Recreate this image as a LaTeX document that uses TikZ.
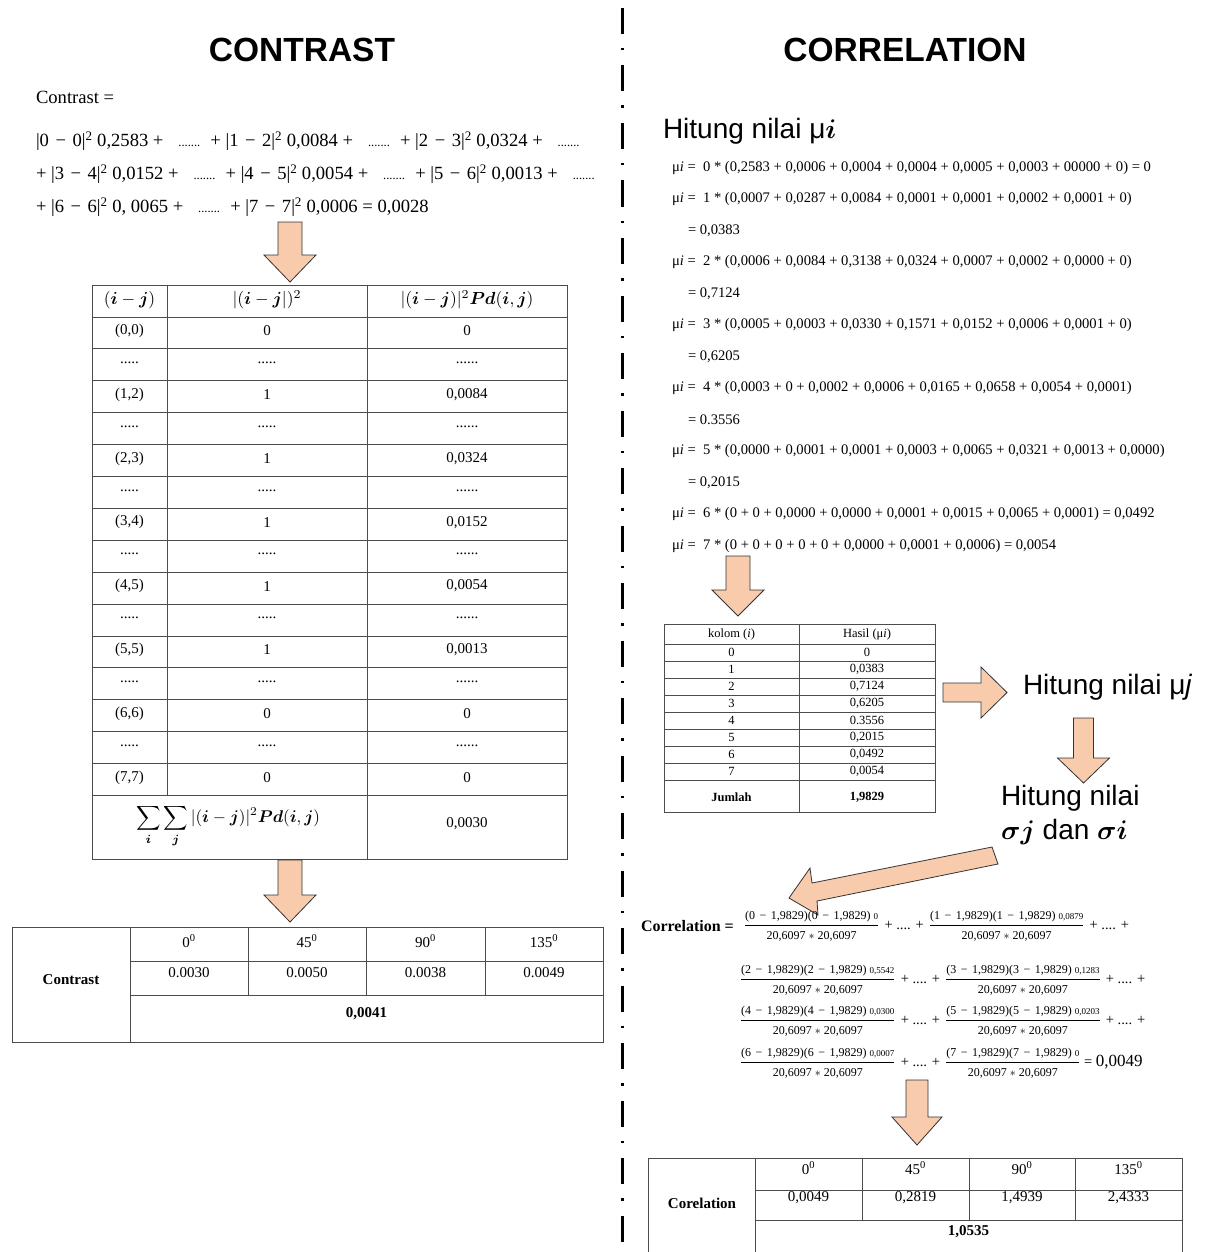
\documentclass[tikz,border=0pt]{standalone}
\usepackage{fontspec}
\setmainfont{Liberation Serif}
\setsansfont{Liberation Sans}
\usepackage{bm}
\usepackage{graphicx}
\newcommand{\myfs}[1]{\fontsize{#1}{#1}\selectfont}
\newcommand{\scmath}[2]{\scalebox{#1}{\myfs{10}$#2$}}
\definecolor{peach}{HTML}{F8CBAD}
\newcommand{\peachdown}[6]{\draw[peacharrow] ({#1-#5},#2) -- ({#1+#5},#2) -- ({#1+#5},#3) -- ({#1+#6},#3) -- (#1,#4) -- ({#1-#6},#3) -- ({#1-#5},#3) -- cycle;}
\newcommand{\mn}{\kern4.5pt−\kern4.5pt}
\newcommand{\crfrac}[2]{$\displaystyle\frac{\mbox{\myfs{12}(#1\mn1,9829)(#1\mn1,9829) {\myfs{9}#2}}}{\mbox{\myfs{12}20,6097 $\ast$ 20,6097}}$}
\newcommand{\pdp}{\hspace{0.35em}+ .... +\hspace{0.35em}}
\newcommand{\dts}{{\myfs{12.5}.......}}
\newcommand{\gp}{\hspace{0.8em}\dts\hspace{0.55em}}
\newcommand{\ab}[2]{|#1\hspace{0.35em}−\hspace{0.35em}#2|\textsuperscript{2}}
\tikzset{
  peacharrow/.style={fill=peach, draw=black!80, line width=0.8pt, line join=miter},
  grid/.style={draw=black!70, line width=0.8pt},
  txt/.style={inner sep=0pt, outer sep=0pt},
  ttl/.style={txt, font=\sffamily\bfseries\myfs{33.5}},
  cont/.style={txt, anchor=west, font=\myfs{18.6}},
  mu/.style={txt, anchor=west, font=\myfs{14.6}},
  cell/.style={txt, font=\myfs{15}},
  scell/.style={txt, font=\myfs{12.5}},
  hit/.style={txt, anchor=west, font=\sffamily\myfs{28}},
  crl/.style={txt, anchor=west, font=\myfs{14.5}},
}
\begin{document}
\begin{tikzpicture}[x=1pt,y=-1pt]
\useasboundingbox (0,0) rectangle (1205,1252);
\fill[white] (0,0) rectangle (1205,1252);
% divider
\draw[line width=3pt, dash pattern=on 26pt off 14pt on 2.5pt off 15pt] (622,8) -- (622,1252);
% titles
\node[ttl] (t1) at (302,50) {CONTRAST};
\node[ttl] (t2) at (905,50) {CORRELATION};
% contrast formula
\node[cont] (cq) at (36,97) {Contrast =};
\node[cont] (cl1) at (36,141) {\ab{0}{0} 0,2583 +\gp+ \ab{1}{2} 0,0084 +\gp+ \ab{2}{3} 0,0324 +\hspace{0.8em}\dts};
\node[cont] (cl2) at (36,174) {+ \ab{3}{4} 0,0152 +\gp+ \ab{4}{5} 0,0054 +\gp+ \ab{5}{6} 0,0013 +\hspace{0.8em}\dts};
\node[cont] (cl3) at (36,207) {+ \ab{6}{6} 0, 0065 +\gp+ \ab{7}{7} 0,0006 = 0,0028};
\peachdown{290}{222}{255}{282}{12}{26}
% left table
\draw[grid] (92,285) rectangle (567,859);
\foreach \k in {1,...,16} \draw[grid] (92,{285+31.9*\k}) -- (567,{285+31.9*\k});
\draw[grid] (167,285) -- (167,795.4);
\draw[grid] (367,285) -- (367,859);
\node[cell] (h1) at (129.5,300) {\scmath{1.75}{(\bm{i}-\bm{j})}};
\node[cell] (h2) at (267,300) {\scmath{1.75}{|(\bm{i}-\bm{j}|)^2}};
\node[cell] (h3) at (467,300) {\scmath{1.75}{|(\bm{i}-\bm{j})|^2\bm{Pd}(\bm{i},\bm{j})}};
\foreach \a/\b/\c [count=\k] in {{(0,0)}/0/0, {.....}/{.....}/{......}, {(1,2)}/1/{0,0084}, {.....}/{.....}/{......}, {(2,3)}/1/{0,0324}, {.....}/{.....}/{......}, {(3,4)}/1/{0,0152}, {.....}/{.....}/{......}, {(4,5)}/1/{0,0054}, {.....}/{.....}/{......}, {(5,5)}/1/{0,0013}, {.....}/{.....}/{......}, {(6,6)}/0/0, {.....}/{.....}/{......}, {(7,7)}/0/0} {
  \node[cell] (la\k) at (129.5,{285+31.9*\k+14}) {\a};
  \node[cell] (lb\k) at (267,{285+31.9*\k+14}) {\b};
  \node[cell] (lc\k) at (467,{285+31.9*\k+14}) {\c};
}
\node[cell] (sum) at (228,826) {\scmath{1.7}{\displaystyle\sum_{\bm{i}}\sum_{\bm{j}}|(\bm{i}-\bm{j})|^2\bm{Pd}(\bm{i},\bm{j})}};
\node[cell] (sumv) at (467,824) {0,0030};
\peachdown{290}{860}{895}{922}{12}{26}
% left bottom table
\draw[grid] (12,927) rectangle (603,1042);
\draw[grid] (130,961) -- (603,961);
\draw[grid] (130,995) -- (603,995);
\draw[grid] (130,927) -- (130,1042);
\foreach \x in {248,366,485} \draw[grid] (\x,927) -- (\x,995);
\node[cell,font=\myfs{15}\bfseries] (cn) at (71,980) {Contrast};
\foreach \a/\b/\x [count=\k] in {0/{0.0030}/189, 45/{0.0050}/307, 90/{0.0038}/425.5, 135/{0.0049}/544} {
  \node[cell] (ch\k) at (\x,941) {\a\textsuperscript{0}};
  \node[cell] (cv\k) at (\x,973) {\b};
}
\node[cell,font=\myfs{15}\bfseries] (ct) at (366.5,1014) {0,0041};
% right: mu
\node[hit] (hi) at (663,131) {Hitung nilai μ\scmath{2.7}{\bm{i}}};
\node[mu] (m1) at (672,168) {μ\textit{i} =~ 0 * (0,2583 + 0,0006 + 0,0004 + 0,0004 + 0,0005 + 0,0003 + 00000 + 0) = 0};
\node[mu] (m2) at (672,199) {μ\textit{i} =~ 1 * (0,0007 + 0,0287 + 0,0084 + 0,0001 + 0,0001 + 0,0002 + 0,0001 + 0)};
\node[mu] (m2r) at (688,231) {= 0,0383};
\node[mu] (m3) at (672,262) {μ\textit{i} =~ 2 * (0,0006 + 0,0084 + 0,3138 + 0,0324 + 0,0007 + 0,0002 + 0,0000 + 0)};
\node[mu] (m3r) at (688,294) {= 0,7124};
\node[mu] (m4) at (672,325) {μ\textit{i} =~ 3 * (0,0005 + 0,0003 + 0,0330 + 0,1571 + 0,0152 + 0,0006 + 0,0001 + 0)};
\node[mu] (m4r) at (688,357) {= 0,6205};
\node[mu] (m5) at (672,388) {μ\textit{i} =~ 4 * (0,0003 + 0 + 0,0002 + 0,0006 + 0,0165 + 0,0658 + 0,0054 + 0,0001)};
\node[mu] (m5r) at (688,420) {= 0.3556};
\node[mu] (m6) at (672,451) {μ\textit{i} =~ 5 * (0,0000 + 0,0001 + 0,0001 + 0,0003 + 0,0065 + 0,0321 + 0,0013 + 0,0000)};
\node[mu] (m6r) at (688,483) {= 0,2015};
\node[mu] (m7) at (672,514) {μ\textit{i} =~ 6 * (0 + 0 + 0,0000 + 0,0000 + 0,0001 + 0,0015 + 0,0065 + 0,0001) = 0,0492};
\node[mu] (m8) at (672,546) {μ\textit{i} =~ 7 * (0 + 0 + 0 + 0 + 0 + 0,0000 + 0,0001 + 0,0006) = 0,0054};
\peachdown{738}{556}{590}{616}{12}{26}
% small table
\draw[grid] (664,624) rectangle (935,812);
\draw[grid] (799,624) -- (799,812);
\draw[grid] (664,644) -- (935,644);
\foreach \k in {1,...,8} \draw[grid] (664,{644+17*\k}) -- (935,{644+17*\k});
\node[scell] (sh1) at (731.5,634) {kolom (\textit{i})};
\node[scell] (sh2) at (867,634) {Hasil (μ\textit{i})};
\foreach \a/\b [count=\k] in {0/0, 1/{0,0383}, 2/{0,7124}, 3/{0,6205}, 4/{0.3556}, 5/{0,2015}, 6/{0,0492}, 7/{0,0054}} {
  \node[scell] (sa\k) at (731.5,{635.5+17*\k}) {\a};
  \node[scell] (sb\k) at (867,{635.5+17*\k}) {\b};
}
\node[scell,font=\myfs{12.5}\bfseries] (sj1) at (731.5,797) {Jumlah};
\node[scell,font=\myfs{12.5}\bfseries] (sj2) at (867,797) {1,9829};
% right arrow and mu j
\draw[peacharrow] (943,683) -- (981,683) -- (981,667) -- (1007,692.5) -- (981,718) -- (981,702) -- (943,702) -- cycle;
\node[hit] (hj) at (1023,687) {Hitung nilai μ\textit{j}};
\peachdown{1083.5}{718}{758}{783}{10}{26}
\node[hit] (hs1) at (1001,798) {Hitung nilai};
\node[hit] (hs2) at (1001,832) {\scmath{2.7}{\bm{\sigma j}} dan \scmath{2.7}{\bm{\sigma i}}};
\draw[peacharrow] (992,847) -- (998,864) -- (817,901) -- (818,915) -- (789,898) -- (810,868) -- (812,883) -- cycle;
% correlation
\node[txt,anchor=west,font=\myfs{16}\bfseries] (cor) at (641,926) {Correlation =};
\node[crl] (cr1) at (744,926) {\crfrac{0}{0}\pdp\crfrac{1}{0,0879}\pdp};
\node[crl] (cr2) at (740,980) {\crfrac{2}{0,5542}\pdp\crfrac{3}{0,1283}\pdp};
\node[crl] (cr3) at (740,1021) {\crfrac{4}{0,0300}\pdp\crfrac{5}{0,0203}\pdp};
\node[crl] (cr4) at (740,1063) {\crfrac{6}{0,0007}\pdp\crfrac{7}{0} = {\myfs{17}0,0049}};
\peachdown{917}{1080}{1117}{1145}{11}{25}
% right bottom table
\draw[grid] (648,1252) -- (648,1158) -- (1182,1158) -- (1182,1252);
\draw[grid] (755,1158) -- (755,1252);
\draw[grid] (755,1190) -- (1182,1190);
\draw[grid] (755,1220) -- (1182,1220);
\foreach \x in {862,969,1075} \draw[grid] (\x,1158) -- (\x,1220);
\node[cell,font=\myfs{15}\bfseries] (crn) at (702,1203) {Corelation};
\foreach \a/\b/\x [count=\k] in {0/{0,0049}/808.5, 45/{0,2819}/915.5, 90/{1,4939}/1022, 135/{2,4333}/1128.5} {
  \node[cell] (rh\k) at (\x,1168) {\a\textsuperscript{0}};
  \node[cell] (rv\k) at (\x,1198) {\b};
}
\node[cell,font=\myfs{15}\bfseries] (rt) at (968.5,1232) {1,0535};
\end{tikzpicture}
\end{document}
